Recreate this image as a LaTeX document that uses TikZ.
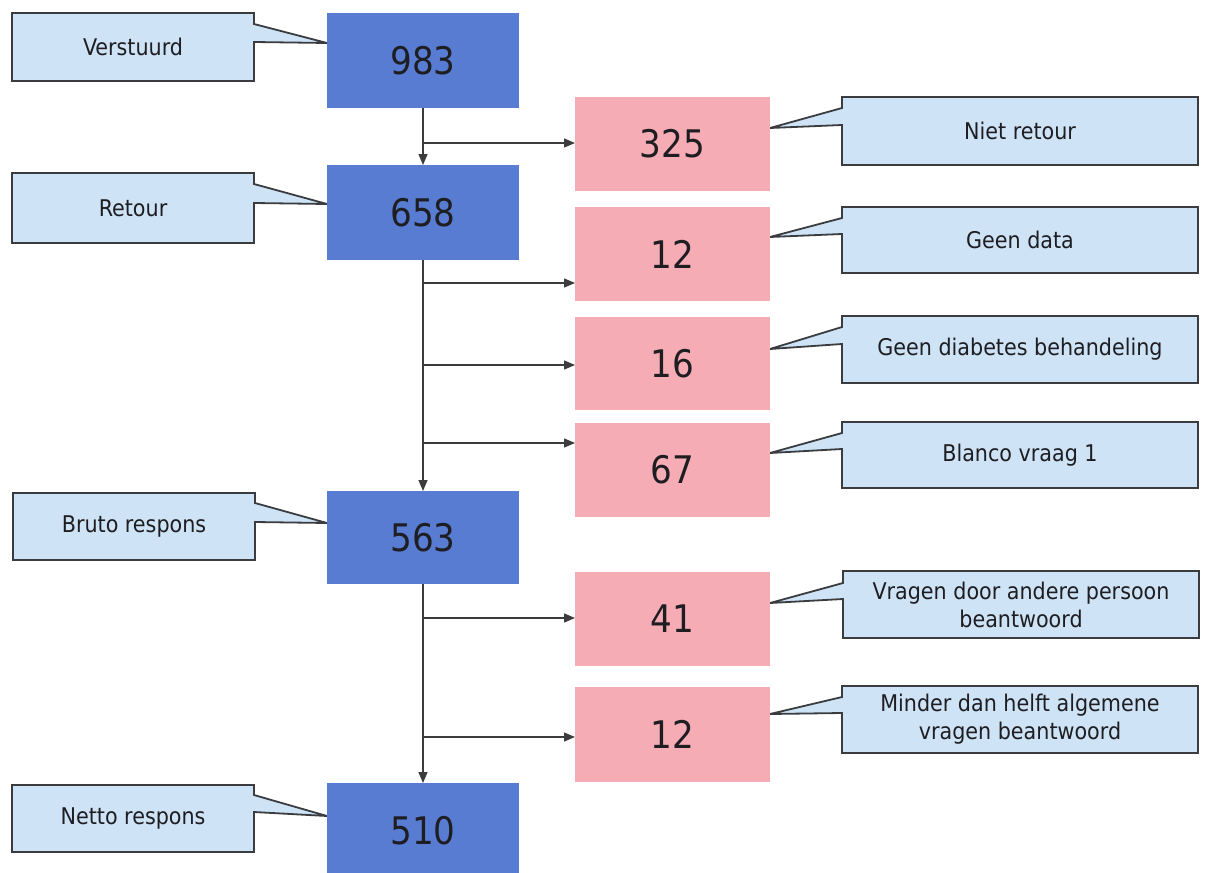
\documentclass[tikz,border=0pt]{standalone}
\usepackage{fontspec}
\setmainfont{DejaVu Sans Condensed}
\usetikzlibrary{arrows.meta,backgrounds}
\definecolor{boxblue}{RGB}{88,124,210}
\definecolor{boxpink}{RGB}{246,172,180}
\definecolor{callfill}{RGB}{206,227,246}
\definecolor{callline}{RGB}{58,60,64}
\definecolor{arrline}{RGB}{60,60,62}
\definecolor{txt}{RGB}{30,30,34}
\tikzset{
  numbox/.style={minimum width=#1, inner sep=0pt, outer sep=0pt, text=txt,
    font=\fontsize{38}{44}\selectfont},
  bluebox/.style={numbox=192pt, fill=boxblue},
  pinkbox/.style={numbox=195pt, fill=boxpink},
  calltext/.style={inner sep=0pt, outer sep=0pt, align=center, text=txt,
    font=\fontsize{23}{28}\selectfont},
  leftcall/.style={calltext, minimum width=242pt},
  rightcall/.style={calltext, minimum width=356pt},
  co/.style={fill=callfill, draw=callline, line width=1.8pt, line join=miter},
  arr/.style={draw=arrline, line width=1.3pt, -{Triangle[length=11pt,width=9pt]}},
}
% left callout outline: #1 callout, #2/#3 pointer base y, #4 target, #5 tip y
\newcommand\lcallout[5]{%
  \path[co] (#1.north west) -- (#1.north east) -- (#1.east |- 0,#2) -- (#4.west |- 0,#5)
    -- (#1.east |- 0,#3) -- (#1.south east) -- (#1.south west) -- cycle;}
\newcommand\rcallout[5]{%
  \path[co] (#1.north west) -- (#1.north east) -- (#1.south east) -- (#1.south west)
    -- (#1.west |- 0,#3) -- (#4.east |- 0,#5) -- (#1.west |- 0,#2) -- cycle;}
\begin{document}
\begin{tikzpicture}[x=1pt,y=-1pt]
\useasboundingbox (0,0) rectangle (1206,872);
\clip (0,0) rectangle (1206,872);

% blue boxes
\node[bluebox, minimum height=95pt] (n983) at (423,60.5) {983};
\node[bluebox, minimum height=95pt] (n658) at (423,212.5) {658};
\node[bluebox, minimum height=93pt] (n563) at (423,537.5) {563};
\node[bluebox, minimum height=95pt] (n510) at (423,830.5) {510};

% pink boxes
\node[pinkbox, minimum height=94pt] (p325) at (672.5,144) {325};
\node[pinkbox, minimum height=94pt] (p12a) at (672.5,254) {12};
\node[pinkbox, minimum height=93pt] (p16) at (672.5,363.5) {16};
\node[pinkbox, minimum height=94pt] (p67) at (672.5,470) {67};
\node[pinkbox, minimum height=94pt] (p41) at (672.5,619) {41};
\node[pinkbox, minimum height=95pt] (p12b) at (672.5,734.5) {12};

% left callouts
\node[leftcall, minimum height=68pt] (cV) at (133,47) {Verstuurd};
\node[leftcall, minimum height=70pt] (cR) at (133,208) {Retour};
\node[leftcall, minimum height=67pt] (cB) at (134,526.5) {Bruto respons};
\node[leftcall, minimum height=67pt] (cN) at (133,818.5) {Netto respons};

% right callouts
\node[rightcall, minimum height=68pt] (cNR) at (1020,131) {Niet retour};
\node[rightcall, minimum height=66pt] (cGD) at (1020,240) {Geen data};
\node[rightcall, minimum height=67pt] (cGB) at (1020,349.5) {Geen diabetes behandeling};
\node[rightcall, minimum height=66pt] (cBV) at (1020,455) {Blanco vraag 1};
\node[rightcall, minimum height=67pt] (cVD) at (1021,604.5) {Vragen door andere persoon\\beantwoord};
\node[rightcall, minimum height=67pt] (cMD) at (1020,719.5) {Minder dan helft algemene\\vragen beantwoord};

\begin{scope}[on background layer]
\fill[white] (0,0) rectangle (1206,872);
\lcallout{cV}{24}{42}{n983}{43}
\lcallout{cR}{184}{203}{n658}{204}
\lcallout{cB}{503}{522}{n563}{523}
\lcallout{cN}{795}{812}{n510}{816}
\rcallout{cNR}{108}{125}{p325}{128}
\rcallout{cGD}{218}{234}{p12a}{237}
\rcallout{cGB}{327}{344}{p16}{349}
\rcallout{cBV}{433}{449}{p67}{453}
\rcallout{cVD}{583}{599}{p41}{603}
\rcallout{cMD}{697}{713}{p12b}{714}
\end{scope}

% trunk
\draw[arr] (n983.south) -- (n658.north);
\draw[arr] (n658.south) -- (n563.north);
\draw[arr] (n563.south) -- (n510.north);

% branch points
\coordinate (b1) at (n983.south |- 0,143);
\coordinate (b2) at (n658.south |- 0,283);
\coordinate (b3) at (n658.south |- 0,365);
\coordinate (b4) at (n658.south |- 0,443);
\coordinate (b5) at (n563.south |- 0,618);
\coordinate (b6) at (n563.south |- 0,737);

\draw[arr] (b1) -- (b1 -| p325.west);
\draw[arr] (b2) -- (b2 -| p12a.west);
\draw[arr] (b3) -- (b3 -| p16.west);
\draw[arr] (b4) -- (b4 -| p67.west);
\draw[arr] (b5) -- (b5 -| p41.west);
\draw[arr] (b6) -- (b6 -| p12b.west);
\end{tikzpicture}
\end{document}
